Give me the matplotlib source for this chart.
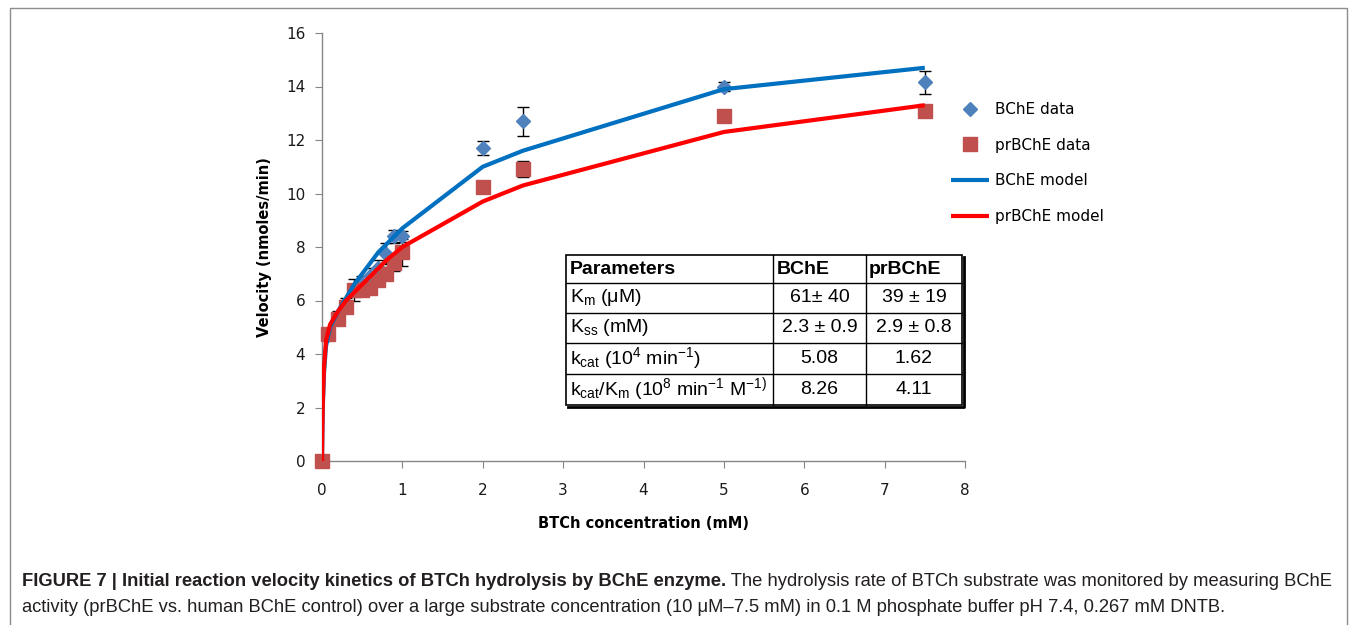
import matplotlib
matplotlib.use("Agg")
import matplotlib.pyplot as plt
from matplotlib.lines import Line2D
from matplotlib.patches import Rectangle

plt.rcParams['font.family'] = ['DejaVu Sans']
plt.rcParams['mathtext.fontset'] = 'custom'
plt.rcParams['mathtext.rm'] = 'Liberation Sans'
plt.rcParams['mathtext.it'] = 'Liberation Sans:italic'
plt.rcParams['mathtext.bf'] = 'Liberation Sans:bold'

# ---------------- data ----------------
bche_x = [0, 0.075, 0.2, 0.3, 0.4, 0.5, 0.6, 0.7, 0.8, 0.9, 1.0, 2.0, 2.5, 5.0, 7.5]
bche_y = [0, 4.7, 5.4, 5.9, 6.4, 6.6, 6.9, 7.2, 7.75, 8.4, 8.4, 11.7, 12.7, 14.0, 14.15]
bche_err = [0, 0.1, 0.2, 0.2, 0.4, 0.3, 0.3, 0.3, 0.4, 0.25, 0.2, 0.25, 0.55, 0.15, 0.43]

prbche_x = [0, 0.075, 0.2, 0.3, 0.4, 0.5, 0.6, 0.7, 0.8, 0.9, 1.0, 2.0, 2.5, 5.0, 7.5]
prbche_y = [0, 4.75, 5.3, 5.75, 6.4, 6.4, 6.45, 6.75, 7.0, 7.4, 7.8, 10.25, 10.9, 12.9, 13.1]
prbche_err = [0, 0.1, 0.1, 0.1, 0.1, 0.2, 0.2, 0.2, 0.25, 0.3, 0.5, 0.1, 0.3, 0.1, 0.1]

model_x = [0, 0.005, 0.01, 0.025, 0.05, 0.1, 0.2, 0.3, 0.4, 0.5, 0.6, 0.7, 0.8, 0.9, 1.0, 2.0, 2.5, 5.0, 7.5]
bche_model = [0, 1.2, 2.0, 3.3, 4.3, 5.0, 5.6, 6.1, 6.6, 7.0, 7.4, 7.8, 8.1, 8.4, 8.7, 11.0, 11.6, 13.9, 14.7]
prbche_model = [0, 1.3, 2.2, 3.5, 4.5, 5.1, 5.6, 6.0, 6.3, 6.6, 6.9, 7.2, 7.5, 7.75, 8.0, 9.7, 10.3, 12.3, 13.3]

x_ticks = [0, 1, 2, 3, 4, 5, 6, 7, 8]
y_ticks = [0, 2, 4, 6, 8, 10, 12, 14, 16]

table_header = ["Parameters", "BChE", "prBChE"]
table_params = [r"K$_{\mathrm{m}}$ (μM)", r"K$_{\mathrm{ss}}$ (mM)",
                r"k$_{\mathrm{cat}}$ (10$^{\mathrm{4}}$ min$^{\mathrm{-1}}$)",
                r"k$_{\mathrm{cat}}$/K$_{\mathrm{m}}$ (10$^{\mathrm{8}}$ min$^{\mathrm{-1}}$ M$^{\mathrm{-1)}}$"]
table_bche = ["61± 40", "2.3 ± 0.9", "5.08", "8.26"]
table_prbche = ["39 ± 19", "2.9 ± 0.8", "1.62", "4.11"]

caption_bold = "FIGURE 7 | Initial reaction velocity kinetics of BTCh hydrolysis by BChE enzyme."
caption_rest1 = " The hydrolysis rate of BTCh substrate was monitored by measuring BChE"
caption_line2 = "activity (prBChE vs. human BChE control) over a large substrate concentration (10 μM–7.5 mM) in 0.1 M phosphate buffer pH 7.4, 0.267 mM DNTB."

# ---------------- figure ----------------
W, H = 1357, 625
fig = plt.figure(figsize=(W / 100, H / 100), dpi=100)

def fx(px):
    return px / W

def fy(py):
    return 1 - py / H

# outer frame
fig.add_artist(Rectangle((fx(10), fy(640)), fx(1347) - fx(10), fy(8) - fy(640),
                         transform=fig.transFigure, fill=False, edgecolor='#8c8c8c', lw=1.0))

ax = fig.add_axes([fx(322), fy(461), fx(965) - fx(322), fy(33) - fy(461)])
ax.set_xlim(0, 8)
ax.set_ylim(0, 16)
ax.set_xticks(x_ticks)
ax.set_yticks(y_ticks)
for s in ['top', 'right']:
    ax.spines[s].set_visible(False)
for s in ['left', 'bottom']:
    ax.spines[s].set_color('#868686')
    ax.spines[s].set_linewidth(1.0)
ax.tick_params(axis='both', direction='out', length=5, color='#868686', labelsize=11,
               labelcolor='#1a1a1a')
ax.tick_params(axis='y', pad=7)
ax.tick_params(axis='x', pad=11)

blue_c = '#4F81BD'
red_c = '#C0504D'

ax.errorbar(bche_x, bche_y, yerr=bche_err, fmt='none', ecolor='black', elinewidth=1.0,
            capsize=4, capthick=1.0, zorder=2, clip_on=False)
ax.errorbar(prbche_x, prbche_y, yerr=prbche_err, fmt='none', ecolor='black', elinewidth=1.0,
            capsize=4, capthick=1.0, zorder=2, clip_on=False)
h1, = ax.plot(bche_x, bche_y, linestyle='none', marker='D', markersize=7.5, color=blue_c,
              zorder=3, clip_on=False, label='BChE data')
h2, = ax.plot(prbche_x, prbche_y, linestyle='none', marker='s', markersize=9.5, color=red_c,
              zorder=3, clip_on=False, label='prBChE data')
h3, = ax.plot(model_x, bche_model, color='#0070C0', lw=3.0, zorder=4, label='BChE model',
              solid_capstyle='butt')
h4, = ax.plot(model_x, prbche_model, color='#FF0000', lw=3.0, zorder=4, label='prBChE model',
              solid_capstyle='butt')

ax.set_xlabel("BTCh concentration (mM)", fontsize=10.5, fontweight='bold', labelpad=13)
ax.set_ylabel("Velocity (nmoles/min)", fontsize=10.5, fontweight='bold', labelpad=10)

leg = fig.legend(handles=[h1, h2, h3, h4], loc='upper left',
                 bbox_to_anchor=(fx(951), fy(102)), bbox_transform=fig.transFigure,
                 frameon=False, fontsize=11, borderpad=0, labelspacing=1.35,
                 handlelength=2.5, handletextpad=0.35, borderaxespad=0)

# ---------------- table ----------------
xs = [566, 773, 866, 962]
ys = [255, 283, 313, 343, 374, 405]
for yy in ys[1:-1]:
    fig.add_artist(Line2D([fx(xs[0]), fx(xs[-1])], [fy(yy), fy(yy)], transform=fig.transFigure,
                          color='black', lw=1.0))
for xx in xs[1:-1]:
    fig.add_artist(Line2D([fx(xx), fx(xx)], [fy(ys[0]), fy(ys[-1])], transform=fig.transFigure,
                          color='black', lw=1.0))
fig.add_artist(Rectangle((fx(xs[0]), fy(ys[-1])), fx(xs[-1]) - fx(xs[0]), fy(ys[0]) - fy(ys[-1]),
                         transform=fig.transFigure, fill=False, edgecolor='black', lw=1.2))
fig.add_artist(Line2D([fx(xs[0] + 2), fx(xs[-1] + 2), fx(xs[-1] + 2)],
                      [fy(ys[-1] + 2), fy(ys[-1] + 2), fy(ys[0] + 2)],
                      transform=fig.transFigure, color='black', lw=2.0))

row_c = [(ys[i] + ys[i + 1]) / 2 for i in range(len(ys) - 1)]
tfont = 'Liberation Sans'
tsize = 14
fig.text(fx(570), fy(row_c[0]), table_header[0], fontsize=tsize, fontweight='bold',
         family=tfont, va='center', ha='left')
fig.text(fx(777), fy(row_c[0]), table_header[1], fontsize=tsize, fontweight='bold',
         family=tfont, va='center', ha='left')
fig.text(fx(869), fy(row_c[0]), table_header[2], fontsize=tsize, fontweight='bold',
         family=tfont, va='center', ha='left')
for i in range(4):
    yc = fy(row_c[i + 1])
    fig.text(fx(570), yc, table_params[i], fontsize=tsize, family=tfont, va='center', ha='left')
    fig.text(fx((xs[1] + xs[2]) / 2), yc, table_bche[i], fontsize=tsize, family=tfont,
             va='center', ha='center')
    fig.text(fx((xs[2] + xs[3]) / 2), yc, table_prbche[i], fontsize=tsize, family=tfont,
             va='center', ha='center')

# ---------------- caption ----------------
cap_fam = ['Liberation Sans Narrow', 'Liberation Sans', 'DejaVu Sans']
csize = 13.2
t1 = fig.text(fx(22), fy(582), caption_bold, fontsize=csize, fontweight='bold', family=cap_fam,
              va='center', ha='left', color='#231f20')
fig.canvas.draw()
bb = t1.get_window_extent()
fig.text(bb.x1 / W, fy(582), caption_rest1, fontsize=csize, family=cap_fam,
         va='center', ha='left', color='#231f20')
fig.text(fx(22), fy(607), caption_line2, fontsize=csize, family=cap_fam,
         va='center', ha='left', color='#231f20')

fig.savefig("out.png", dpi=100)
